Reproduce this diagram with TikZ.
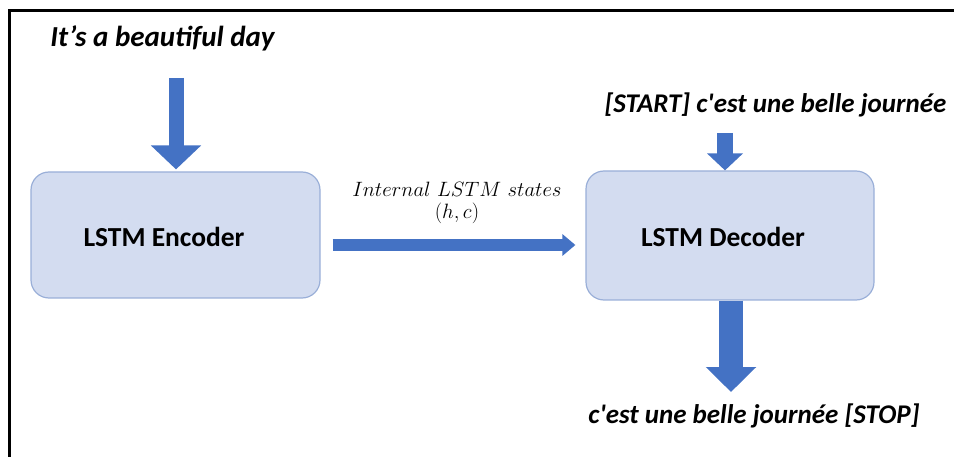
\documentclass[tikz,border=0pt]{standalone}
\usepackage{fontspec}
\newfontfamily\calib{Carlito}
\usetikzlibrary{arrows.meta,calc}
\definecolor{arrblue}{HTML}{4472C4}
\definecolor{boxfill}{HTML}{D3DCF0}
\definecolor{boxdraw}{HTML}{9AAFD8}
\tikzset{
  lstmbox/.style={draw=boxdraw, line width=1.2pt, fill=boxfill, rounded corners=18pt, inner sep=0pt},
  boxlabel/.style={font=\calib\bfseries\fontsize{27.5}{30}\selectfont, inner sep=0pt},
  seqtext/.style={font=\calib\bfseries\itshape\fontsize{27}{30}\selectfont, anchor=base, inner sep=0pt},
  fatarrow/.style={draw=arrblue, color=arrblue, line cap=butt},
}
\begin{document}
\begin{tikzpicture}[x=1pt,y=-1pt]
\useasboundingbox (0,0) rectangle (954,457);
% frame (top and left edges visible)
\draw[line width=3pt, line cap=rect] (9,457) -- (9,10.5) -- (954,10.5);

\node[lstmbox, minimum width=289pt, minimum height=126pt] (enc) at (175.5,235) {};
\node[boxlabel] (enct) at (164,237) {LSTM Encoder};
\node[lstmbox, minimum width=288pt, minimum height=129pt] (dec) at (730,235.5) {};
\node[boxlabel] (dect) at (723,237) {LSTM Decoder};

\node[seqtext, font=\calib\bfseries\itshape\fontsize{29}{32}\selectfont] (in1) at (162.5,47) {It’s a beautiful day};
\node[seqtext] (in2) at (775.5,113) {[START] c'est une belle journée};
\node[seqtext] (out) at (754,423) {c'est une belle journée [STOP]};

\node[font=\fontsize{21.5}{24}\selectfont, align=center, inner sep=0pt] (lab) at (457,203)
  {$Internal\ LSTM\ states$\\[-2pt] $(h,c)$};

\coordinate (a1) at (176,78);
\coordinate (a2) at (725,133);
\coordinate (a3) at (731,392);
\coordinate (m1) at ($(enc.east)+(12,10)$);

\draw[fatarrow, line width=15pt, -{Triangle[width=49pt,length=24pt]}]
  (a1) -- ([yshift=2pt]a1 |- enc.north);
\draw[fatarrow, line width=16pt, -{Triangle[width=35pt,length=17pt]}]
  (a2) -- (a2 |- dec.north);
\draw[fatarrow, line width=24pt, -{Triangle[width=49pt,length=25pt]}]
  (a3 |- dec.south) -- (a3);
\draw[fatarrow, line width=12pt, -{Triangle[width=21pt,length=13pt]}]
  (m1) -- ([xshift=-10pt]dec.west |- m1);
\end{tikzpicture}
\end{document}
